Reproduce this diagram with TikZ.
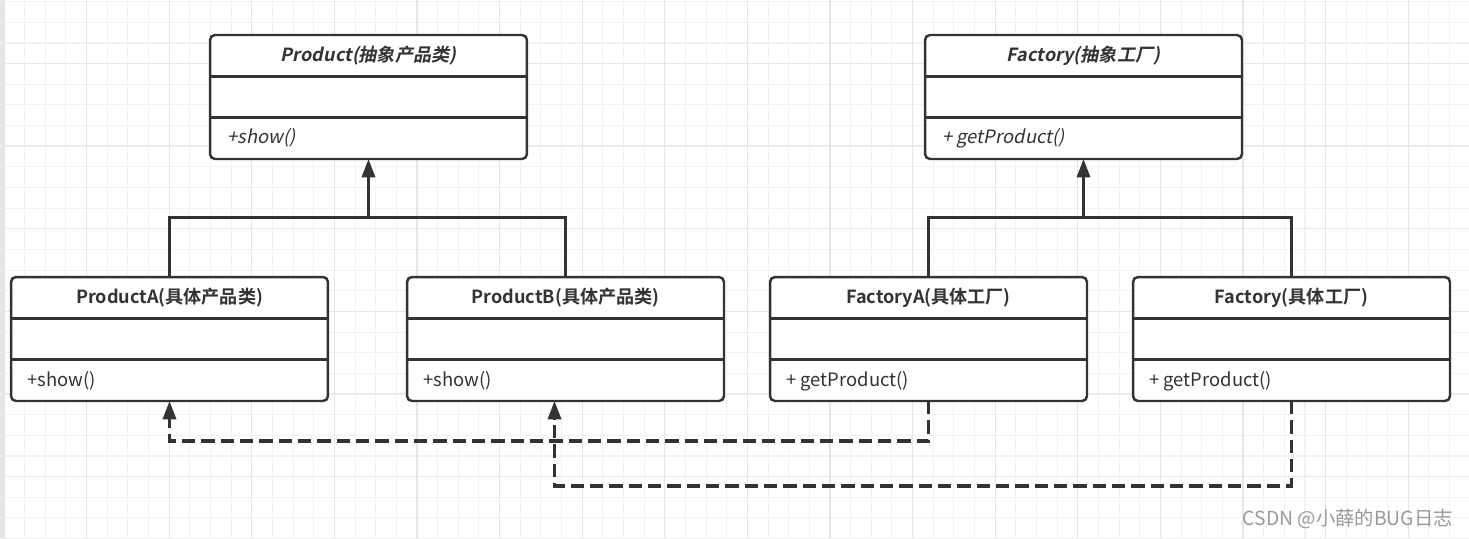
\documentclass[tikz,border=0pt]{standalone}
\usepackage{fontspec}
\setmainfont{Noto Sans CJK SC}[BoldFont={Noto Sans CJK SC Bold},ItalicFont={Noto Sans CJK SC},ItalicFeatures={FakeSlant=0.2},BoldItalicFont={Noto Sans CJK SC Bold},BoldItalicFeatures={FakeSlant=0.2}]
\usepackage{xcolor}
\usetikzlibrary{arrows.meta, positioning, calc}
\definecolor{ink}{HTML}{333333}
\definecolor{gridminor}{HTML}{F2F2F2}
\definecolor{gridmajor}{HTML}{E6E6E6}
\definecolor{mark}{HTML}{9A9A9A}
\tikzstyle{classbox} = [draw=ink, line width=1.4pt, rounded corners=2.8pt, fill=white, minimum width=6.34cm, minimum height=2.48cm, inner sep=0pt, outer sep=0pt]
\tikzstyle{divider} = [draw=ink, line width=1.4pt]
\tikzstyle{classtitle} = [font=\fontsize{10.3}{12}\selectfont\bfseries, text=ink, inner sep=0pt]
\tikzstyle{method} = [font=\fontsize{10.5}{12}\selectfont, text=ink, anchor=west, inner sep=0pt]
\tikzstyle{inherit} = [draw=ink, line width=1.7pt]
\tikzstyle{depend} = [draw=ink, line width=1.8pt, dash pattern=on 7.6pt off 3.4pt]
\tikzstyle{arrow} = [-{Triangle[length=10.5pt,width=7.5pt]}]

\begin{document}
\begin{tikzpicture}[x=0.02cm, y=-0.02cm]
    \useasboundingbox (0,0) rectangle (1469,538);

    % Grid paper
    \fill[white] (0,0) rectangle (1469,538);
    \fill[gridmajor] (0,0) rectangle (3,538);
    \foreach \i in {0,...,71}
        \draw[gridminor, line width=0.6pt] ({4+20.65*\i},0) -- ({4+20.65*\i},538);
    \foreach \j in {0,...,26}
        \draw[gridminor, line width=0.6pt] (0,{1.7+20.65*\j}) -- (1469,{1.7+20.65*\j});
    \foreach \i in {0,...,17}
        \draw[gridmajor, line width=0.6pt] ({4+82.6*\i},0) -- ({4+82.6*\i},538);
    \foreach \j in {0,...,5}
        \draw[gridmajor, line width=0.6pt] (0,{63.3+82.6*\j}) -- (1469,{63.3+82.6*\j});

    % Abstract classes
    \node[classbox] (prod) at (368.5,97) {};
    \node[classbox] (fact) at (1083.5,97) {};

    % Concrete classes
    \node[classbox] (pa) at (169.5,339) {};
    \node[classbox] (pb) at (565.5,339) {};
    \node[classbox] (fa) at (928.5,339) {};
    \node[classbox] (fb) at (1291.5,339) {};

    % Compartment lines
    \foreach \n in {prod,fact,pa,pb,fa,fb} {
        \draw[divider] ($(\n.north west)+(0,41.5)$) -- ($(\n.north east)+(0,41.5)$);
        \draw[divider] ($(\n.north west)+(0,82.5)$) -- ($(\n.north east)+(0,82.5)$);
    }

    % Class names
    \node[classtitle] (prodT) at ($(prod.north)+(0,21)$) {\itshape Product(抽象产品类)};
    \node[classtitle] (factT) at ($(fact.north)+(0,21)$) {\itshape Factory(抽象工厂)};
    \node[classtitle] (paT) at ($(pa.north)+(0,21)$) {ProductA(具体产品类)};
    \node[classtitle] (pbT) at ($(pb.north)+(0,21)$) {ProductB(具体产品类)};
    \node[classtitle] (faT) at ($(fa.north)+(0,21)$) {FactoryA(具体工厂)};
    \node[classtitle] (fbT) at ($(fb.north)+(0,21)$) {Factory(具体工厂)};

    % Methods
    \node[method] (prodM) at ($(prod.north west)+(17,103)$) {\itshape +show()};
    \node[method] (factM) at ($(fact.north west)+(17,103)$) {\itshape + getProduct()};
    \node[method] (paM) at ($(pa.north west)+(16,104)$) {+show()};
    \node[method] (pbM) at ($(pb.north west)+(16,104)$) {+show()};
    \node[method] (faM) at ($(fa.north west)+(16,104)$) {+ getProduct()};
    \node[method] (fbM) at ($(fb.north west)+(16,104)$) {+ getProduct()};

    % Inheritance
    \coordinate (pj) at (368.5,217);
    \coordinate (fj) at (1083.5,217);
    \draw[inherit] (pa.north) |- (pb.north |- pj) -- (pb.north);
    \draw[inherit, arrow] (pj) -- (prod.south);
    \draw[inherit] (fa.north) |- (fb.north |- fj) -- (fb.north);
    \draw[inherit, arrow] (fj) -- (fact.south);

    % Dependencies
    \coordinate (d1) at (0,441);
    \coordinate (d2) at (0,486);
    \coordinate (pbin) at ($(pb.south)+(-11,0)$);
    \draw[depend, arrow] (fa.south) |- (pa.south |- d1) -- (pa.south);
    \draw[depend, arrow] (fb.south) |- (pbin |- d2) -- (pbin);

    % Watermark
    \node[font=\fontsize{11}{13}\selectfont, text=mark, anchor=east, inner sep=0pt] (wm) at (1453,519) {CSDN @小薛的BUG日志};
\end{tikzpicture}
\end{document}
